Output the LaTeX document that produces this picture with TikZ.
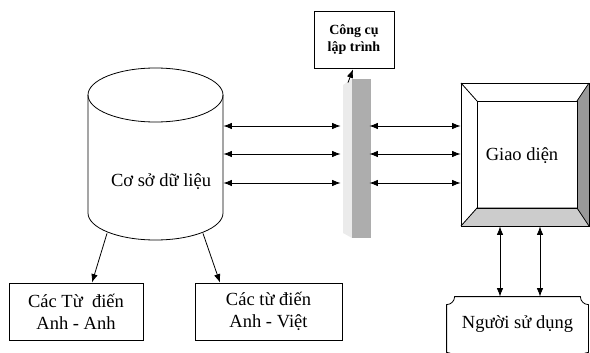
\documentclass[tikz,border=0pt]{standalone}
\usepackage{fontspec}
\setmainfont{Liberation Serif}
\usetikzlibrary{positioning,calc,arrows.meta}

\begin{document}
\begin{tikzpicture}[
    x=1pt, y=-1pt,
    line width=0.8pt,
    txt/.style={font=\fontsize{18.5}{22}\selectfont},
    box/.style={rectangle, draw, align=center, txt},
    arrow/.style={-{Latex[length=8.5pt,width=6.5pt]}},
    biarrow/.style={{Latex[length=8.5pt,width=6.5pt]}-{Latex[length=8.5pt,width=6.5pt]}}
]
    \useasboundingbox (0,0) rectangle (590,353);
    \clip (0,0) rectangle (590,353);

    % database
    \node[minimum width=135pt, minimum height=172pt] (db) at (155.5,154) {};
    \draw (88,95) -- (88,213) arc[start angle=180, end angle=360, x radius=67.5pt, y radius=27pt] -- (223,95);
    \draw (155.5,95) ellipse[x radius=67.5pt, y radius=27pt];
    \node[txt] (dbtext) at (161,182) {Cơ sở dữ liệu};

    % programming bar
    \fill[black!8] (343,85) -- (352,79) -- (352,238) -- (343,233) -- cycle;
    \fill[black!32] (352,79) rectangle (371,238);
    \node[minimum width=28pt, minimum height=159pt] (bar) at (355,158.5) {};
    \node[box, minimum width=80pt, minimum height=57pt, font=\bfseries\fontsize{14}{17.5}\selectfont] (tool) at (354,39.5) {Công cụ\\lập trình};
    \draw[arrow] ([xshift=-7pt,yshift=-4pt]bar.north) -- ([xshift=-1pt,yshift=-1pt]tool.south);

    % interface
    \fill[black!40] (577,101) -- (589,83) -- (589,226) -- (577,208) -- cycle;
    \draw[fill=black!20] (461,226) -- (477,208) -- (577,208) -- (589,226);
    \draw (461,83) -- (477,101) (577,101) -- (589,83);
    \draw (477,101) rectangle (577,208);
    \node[draw, minimum width=128pt, minimum height=143pt] (gui) at (525,154.5) {};
    \node[txt] (guitext) at (522,156) {Giao diện};

    \foreach \y in {126,154,183} {
        \draw[biarrow] (db.east |- 0,\y) -- (bar.west |- 0,\y);
        \draw[biarrow] (bar.east |- 0,\y) -- (gui.west |- 0,\y);
    }

    % user
    \node[txt, minimum width=141pt, minimum height=54pt] (user) at (517.5,324) {Người sử dụng};
    \draw ([xshift=8pt]user.north west) -- ([xshift=-8pt]user.north east)
        arc[start angle=180, end angle=270, radius=8pt]
        -- ([yshift=-1pt]user.south east)
        arc[start angle=90, end angle=180, radius=8pt]
        -- ([xshift=8pt,yshift=-9pt]user.south west)
        arc[start angle=0, end angle=90, radius=8pt]
        -- ([yshift=-8pt]user.north west)
        arc[start angle=270, end angle=360, radius=8pt] -- cycle;
    \foreach \x in {500,540}
        \draw[biarrow] (gui.south -| \x,0) -- (user.north -| \x,0);

    % dictionaries
    \node[box, minimum width=134pt, minimum height=57pt] (anhanh) at (76,311.5) {Các Từ\ \ điến\\Anh - Anh};
    \node[box, minimum width=147pt, minimum height=57pt] (anhviet) at (268.5,311.5) {Các từ điến\\Anh - Việt};
    \draw[arrow] ([xshift=-48.5pt,yshift=7pt]db.south) -- ([xshift=16pt]anhanh.north);
    \draw[arrow] ([xshift=47.5pt,yshift=7pt]db.south) -- ([xshift=-48.5pt]anhviet.north);
\end{tikzpicture}
\end{document}
